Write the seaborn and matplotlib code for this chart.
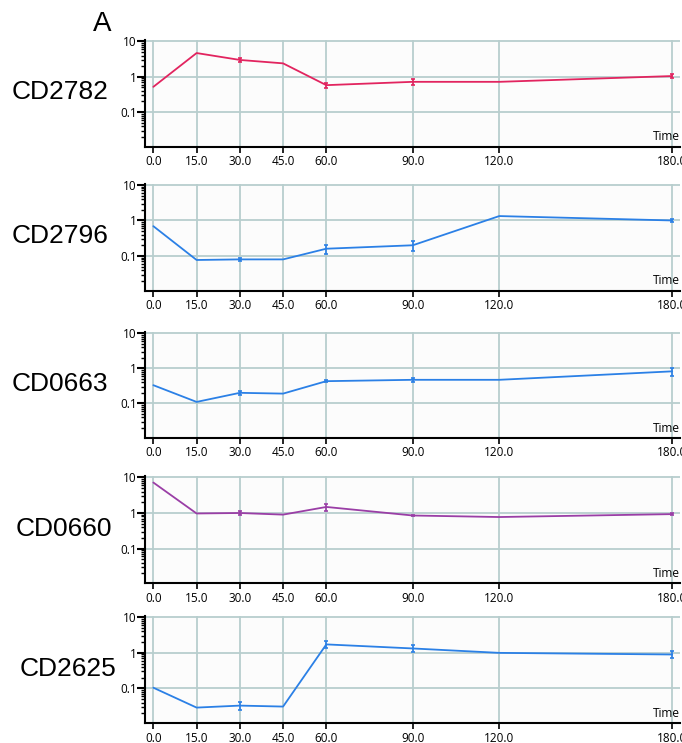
import matplotlib
matplotlib.use('Agg')
import matplotlib.pyplot as plt
import seaborn as sns
from matplotlib.ticker import LogLocator, NullFormatter, FixedLocator, FixedFormatter

# Zeitpunkte (min) a geny
times = [0, 15, 30, 45, 60, 90, 120, 180]
time_labels = ['0.0', '15.0', '30.0', '45.0', '60.0', '90.0', '120.0', '180.0']
genes = ['CD2782', 'CD2796', 'CD0663', 'CD0660', 'CD2625']

# relativní exprese
cd2782 = [0.52, 4.7, 3.0, 2.4, 0.58, 0.72, 0.72, 1.05]
cd2796 = [0.69, 0.077, 0.08, 0.08, 0.16, 0.20, 1.33, 1.0]
cd0663 = [0.33, 0.11, 0.20, 0.19, 0.43, 0.47, 0.47, 0.82]
cd0660 = [7.2, 0.97, 1.0, 0.9, 1.48, 0.85, 0.77, 0.93]
cd2625 = [0.105, 0.029, 0.033, 0.031, 1.73, 1.33, 1.0, 0.9]

# chybové úsečky (0 = bez úsečky)
err2782 = [0, 0, 0.45, 0, 0.1, 0.12, 0, 0.15]
err2796 = [0, 0, 0.008, 0, 0.045, 0.06, 0, 0.1]
err0663 = [0, 0, 0.03, 0, 0.03, 0.05, 0, 0.22]
err0660 = [0, 0, 0.12, 0, 0.35, 0.05, 0, 0.05]
err2625 = [0, 0, 0.008, 0, 0.4, 0.3, 0, 0.2]

values = [cd2782, cd2796, cd0663, cd0660, cd2625]
errors = [err2782, err2796, err0663, err0660, err2625]
colors = ['#e2245f', '#2b80e6', '#2b80e6', '#9a3ea6', '#2b80e6']

sns.set_style('white')
plt.rcParams['font.family'] = ['Open Sans', 'DejaVu Sans']
plt.rcParams['text.color'] = 'black'
plt.rcParams['xtick.color'] = 'black'
plt.rcParams['ytick.color'] = 'black'

W, H = 682, 743
fig = plt.figure(figsize=(W / 100, H / 100), dpi=100)

# pozice os v pixelech (horní, dolní okraj)
rows = [(40, 146.7), (183.5, 290.7), (331.8, 437.7), (476, 583.3), (615.8, 723.3)]
label_x = [12, 12, 12, 16, 20]
left, right = 145, 680

grid_c = '#b8cece'

for i, (top, bot) in enumerate(rows):
    ax = fig.add_axes([left / W, 1 - bot / H, (right - left) / W, (bot - top) / H])
    ax.set_facecolor('#fcfcfc')
    ax.set_yscale('log')
    ax.set_ylim(0.0105, 11)
    ax.set_xlim(-2.9, 182.7)

    for t in times:
        ax.axvline(t, color=grid_c, lw=1.3, zorder=0)
    for yv in [0.1, 1, 10]:
        ax.axhline(yv, color=grid_c, lw=1.3, zorder=0)

    sns.lineplot(x=times, y=values[i], ax=ax, color=colors[i], lw=1.3, zorder=3)
    ex = [t for t, e in zip(times, errors[i]) if e > 0]
    ey = [v for v, e in zip(values[i], errors[i]) if e > 0]
    ee = [e for e in errors[i] if e > 0]
    ax.errorbar(ex, ey, yerr=ee, fmt='none', ecolor=colors[i], elinewidth=1.2,
                capsize=1.5, capthick=1.2, zorder=4)

    for s in ['top', 'right']:
        ax.spines[s].set_visible(False)
    for s in ['left', 'bottom']:
        ax.spines[s].set_color('black')
        ax.spines[s].set_linewidth(1.5)

    ax.xaxis.set_major_locator(FixedLocator(times))
    ax.xaxis.set_major_formatter(FixedFormatter(time_labels))
    ax.yaxis.set_major_locator(FixedLocator([0.1, 1, 10]))
    ax.yaxis.set_major_formatter(FixedFormatter(['0.1', '1', '10']))
    ax.yaxis.set_minor_locator(LogLocator(base=10, subs=range(2, 10), numticks=10))
    ax.yaxis.set_minor_formatter(NullFormatter())
    ax.tick_params(axis='x', direction='out', length=4, width=1.2, labelsize=8.5, pad=2,
                   bottom=True)
    ax.tick_params(axis='y', which='major', direction='out', length=6, width=1.5,
                   labelsize=8.5, pad=0, left=True)
    ax.tick_params(axis='y', which='minor', direction='out', length=3, width=1.0, left=True)
    ax.set_xlabel('')
    ax.set_ylabel('')

    ax.text(1.0, 0.03, 'Time', transform=ax.transAxes, ha='right', va='bottom',
            fontsize=8.5)

    fig.text(label_x[i] / W, 1 - ((top + bot) / 2 - 1) / H, genes[i], ha='left',
             va='center', fontsize=19, family='Liberation Sans')

fig.text(93 / W, 1 - 24 / H, 'A', ha='left', va='center', fontsize=20,
         family='Liberation Sans')

fig.savefig('out.png', dpi=100)
